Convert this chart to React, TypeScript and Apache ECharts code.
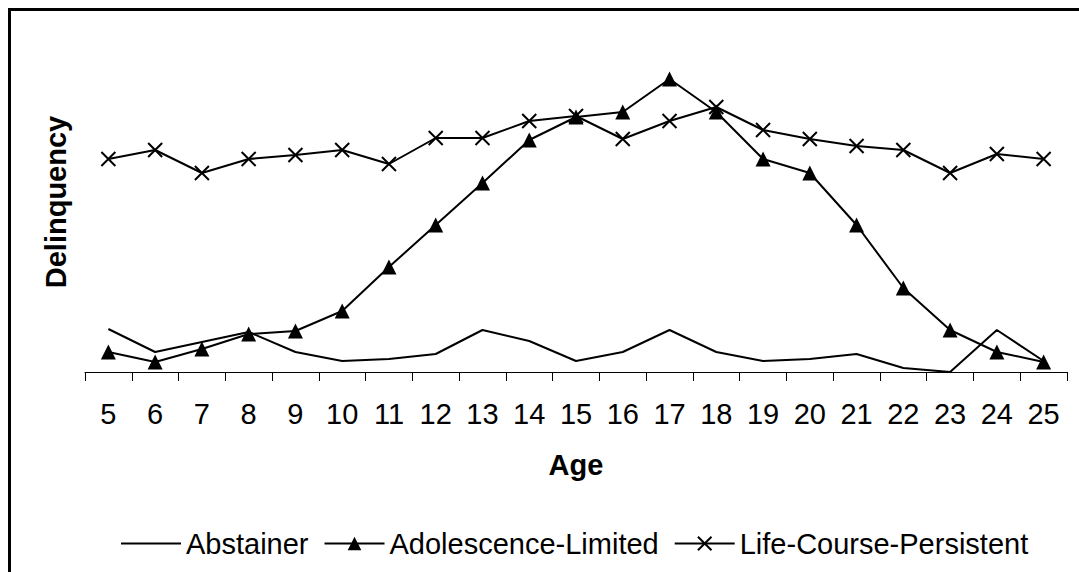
import React, { useEffect, useRef } from "react";
import * as echarts from "echarts";

const ages = ["5", "6", "7", "8", "9", "10", "11", "12", "13", "14", "15", "16", "17", "18", "19", "20", "21", "22", "23", "24", "25"];
const abstainer = [4.3, 2.0, 3.0, 4.0, 2.0, 1.1, 1.3, 1.8, 4.2, 3.1, 1.1, 2.0, 4.2, 2.0, 1.1, 1.3, 1.8, 0.4, 0.0, 4.2, 1.1];
const adolescenceLimited = [2.0, 1.0, 2.3, 3.8, 4.1, 6.1, 10.5, 14.7, 18.9, 23.2, 25.5, 26.0, 29.3, 26.0, 21.3, 19.9, 14.7, 8.4, 4.2, 2.0, 1.0];
const lifeCoursePersistent = [21.3, 22.2, 19.9, 21.3, 21.7, 22.2, 20.8, 23.4, 23.4, 25.1, 25.6, 23.3, 25.1, 26.5, 24.2, 23.3, 22.6, 22.2, 19.9, 21.8, 21.3];

const FONT = "'Liberation Sans', Arial, sans-serif";

export default function App() {
  const ref = useRef<HTMLDivElement>(null);
  useEffect(() => {
    document.body.style.margin = "0";
    const chart = echarts.init(ref.current!, undefined, { renderer: "svg" });
    const lineStyle = { color: "#000", width: 2 };
    chart.setOption({
      animation: false,
      backgroundColor: "#fff",
      textStyle: { fontFamily: FONT },
      graphic: [
        {
          type: "rect",
          shape: { x: 9.5, y: 9.5, width: 1100, height: 620 },
          style: { fill: "none", stroke: "#000", lineWidth: 3 },
          silent: true,
        },
      ],
      grid: { left: 85, right: 12, top: 32, bottom: 200, containLabel: false },
      legend: {
        left: 115,
        top: 524,
        itemWidth: 60,
        itemHeight: 17,
        itemGap: 15,
        lineStyle: { width: 2, color: "#000" },
        textStyle: { fontFamily: FONT, fontSize: 29, color: "#000" },
        data: ["Abstainer", "Adolescence-Limited", "Life-Course-Persistent"],
      },
      xAxis: {
        type: "category",
        data: ages,
        boundaryGap: true,
        name: "Age",
        nameLocation: "middle",
        nameGap: 78,
        nameTextStyle: { fontFamily: FONT, fontSize: 29, fontWeight: "bold", color: "#000" },
        axisLine: { lineStyle: { color: "#000", width: 1 } },
        axisTick: { show: true, length: 9, interval: 0, lineStyle: { color: "#000", width: 1 } },
        axisLabel: { interval: 0, margin: 27, fontFamily: FONT, fontSize: 29, color: "#000" },
        splitLine: { show: false },
      },
      yAxis: {
        type: "value",
        min: 0,
        max: 34,
        name: "Delinquency",
        nameLocation: "middle",
        nameGap: 15,
        nameTextStyle: { fontFamily: FONT, fontSize: 29, fontWeight: "bold", color: "#000" },
        axisLine: { show: false },
        axisTick: { show: false },
        axisLabel: { show: false },
        splitLine: { show: false },
      },
      series: [
        {
          name: "Abstainer",
          type: "line",
          data: abstainer,
          symbol: "path://M0 0L1 1",
          showSymbol: false,
          lineStyle,
          itemStyle: { color: "#000" },
          silent: true,
        },
        {
          name: "Adolescence-Limited",
          type: "line",
          data: adolescenceLimited,
          symbol: "triangle",
          symbolSize: 15,
          showAllSymbol: true,
          lineStyle,
          itemStyle: { color: "#000" },
          silent: true,
        },
        {
          name: "Life-Course-Persistent",
          type: "line",
          data: lifeCoursePersistent,
          symbol: "path://M0 0L10 10M10 0L0 10",
          symbolSize: 14,
          showAllSymbol: true,
          lineStyle,
          itemStyle: { color: "#000", borderColor: "#000", borderWidth: 2 },
          silent: true,
        },
      ],
    });
    return () => chart.dispose();
  }, []);
  return <div ref={ref} style={{ width: 1079, height: 572 }} />;
}
